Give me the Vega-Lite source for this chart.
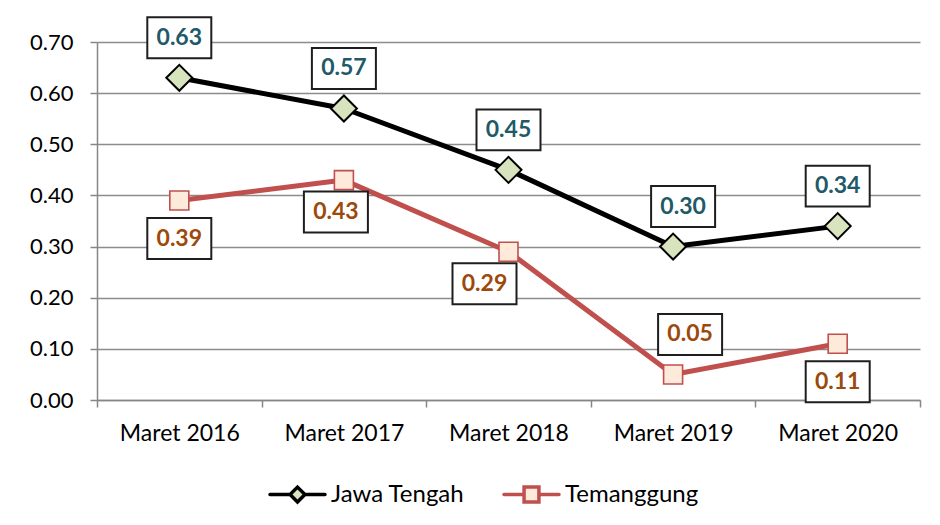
{
  "$schema": "https://vega.github.io/schema/vega-lite/v6.json",
  "width": 823,
  "height": 358,
  "autosize": {"type": "none"},
  "padding": {"left": 97, "top": 42, "right": 20, "bottom": 125},
  "background": "white",
  "config": {
    "font": "Lato",
    "view": {"stroke": null},
    "axis": {
      "labelFont": "Lato",
      "labelColor": "#000000",
      "domainColor": "#868686",
      "domainWidth": 1.5,
      "tickColor": "#868686",
      "tickWidth": 1.5,
      "tickSize": 7,
      "gridColor": "#8c8c8c",
      "gridWidth": 1.5,
      "title": null
    }
  },
  "data": {
    "values": [
      {"period": "Maret 2016", "series": "Jawa Tengah", "value": 0.63},
      {"period": "Maret 2017", "series": "Jawa Tengah", "value": 0.57},
      {"period": "Maret 2018", "series": "Jawa Tengah", "value": 0.45},
      {"period": "Maret 2019", "series": "Jawa Tengah", "value": 0.30},
      {"period": "Maret 2020", "series": "Jawa Tengah", "value": 0.34},
      {"period": "Maret 2016", "series": "Temanggung", "value": 0.39},
      {"period": "Maret 2017", "series": "Temanggung", "value": 0.43},
      {"period": "Maret 2018", "series": "Temanggung", "value": 0.29},
      {"period": "Maret 2019", "series": "Temanggung", "value": 0.05},
      {"period": "Maret 2020", "series": "Temanggung", "value": 0.11}
    ]
  },
  "encoding": {
    "x": {
      "field": "period",
      "type": "nominal",
      "scale": {"type": "band", "paddingInner": 0, "paddingOuter": 0},
      "axis": {
        "tickBand": "extent",
        "labelAngle": 0,
        "labelFontSize": 23,
        "labelPadding": 15,
        "grid": false
      }
    },
    "y": {
      "field": "value",
      "type": "quantitative",
      "scale": {"domain": [0, 0.7], "nice": false, "zero": true},
      "axis": {
        "values": [0, 0.1, 0.2, 0.3, 0.4, 0.5, 0.6, 0.7],
        "format": ".2f",
        "labelFontSize": 22,
        "labelPadding": 17,
        "grid": true
      }
    }
  },
  "layer": [
    {
      "mark": {"type": "line", "strokeWidth": 5, "strokeJoin": "round", "strokeCap": "round"},
      "encoding": {
        "color": {
          "field": "series",
          "type": "nominal",
          "scale": {"domain": ["Jawa Tengah", "Temanggung"], "range": ["#000000", "#C0504D"]},
          "legend": {
            "title": null,
            "orient": "none",
            "direction": "horizontal",
            "legendX": 171,
            "legendY": 423,
            "symbolSize": 3025,
            "labelFontSize": 24,
            "labelFont": "Lato",
            "labelColor": "#000000",
            "labelOffset": 4,
            "columnPadding": 32,
            "encode": {
              "symbols": {
                "update": {
                  "shape": {"signal": "datum.value == 'Jawa Tengah' ? 'M-1,0H-0.27M0.27,0H1M0,-0.27L0.27,0L0,0.27L-0.27,0Z' : 'M-1,0H-0.27M0.27,0H1M-0.27,-0.27H0.27V0.27H-0.27Z'"},
                  "fill": {"signal": "datum.value == 'Jawa Tengah' ? '#D7E4BD' : '#FDEADA'"},
                  "stroke": {"signal": "datum.value == 'Jawa Tengah' ? '#000000' : '#C0504D'"},
                  "strokeWidth": {"value": 3.5},
                  "strokeCap": {"value": "round"},
                  "opacity": {"value": 1}
                }
              }
            }
          }
        }
      }
    },
    {
      "mark": {"type": "point", "filled": true, "opacity": 1},
      "encoding": {
        "shape": {"condition": {"test": "datum.series == 'Jawa Tengah'", "value": "diamond"}, "value": "square"},
        "size": {"condition": {"test": "datum.series == 'Jawa Tengah'", "value": 676}, "value": 361},
        "fill": {"condition": {"test": "datum.series == 'Jawa Tengah'", "value": "#D7E4BD"}, "value": "#FDEADA"},
        "stroke": {"condition": {"test": "datum.series == 'Jawa Tengah'", "value": "#000000"}, "value": "#C0504D"},
        "strokeWidth": {"condition": {"test": "datum.series == 'Jawa Tengah'", "value": 2}, "value": 1.6}
      }
    },
    {
      "mark": {
        "type": "point",
        "filled": true,
        "opacity": 1,
        "shape": "M-1,-0.64H1V0.64H-1Z",
        "size": 4096,
        "fill": "#ffffff",
        "stroke": "#1e1e1e",
        "strokeWidth": 2,
        "xOffset": {"expr": "datum.series == 'Temanggung' && datum.period == 'Maret 2018' ? -24 : datum.series == 'Temanggung' && datum.period == 'Maret 2019' ? 17 : datum.series == 'Temanggung' && datum.period == 'Maret 2017' ? -8 : datum.series == 'Jawa Tengah' && datum.period == 'Maret 2019' ? 10 : 0"},
        "yOffset": {"expr": "datum.series == 'Jawa Tengah' || datum.period == 'Maret 2019' ? -40 : (datum.period == 'Maret 2017' || datum.period == 'Maret 2018' ? 32 : 38)"}
      }
    },
    {
      "mark": {
        "type": "text",
        "font": "Lato",
        "fontWeight": "bold",
        "fontSize": 23,
        "baseline": "middle",
        "align": "center",
        "dx": {"expr": "datum.series == 'Temanggung' && datum.period == 'Maret 2018' ? -24 : datum.series == 'Temanggung' && datum.period == 'Maret 2019' ? 17 : datum.series == 'Temanggung' && datum.period == 'Maret 2017' ? -8 : datum.series == 'Jawa Tengah' && datum.period == 'Maret 2019' ? 10 : 0"},
        "dy": {"expr": "datum.series == 'Jawa Tengah' || datum.period == 'Maret 2019' ? -40 : (datum.period == 'Maret 2017' || datum.period == 'Maret 2018' ? 32 : 38)"}
      },
      "encoding": {
        "text": {"field": "value", "type": "quantitative", "format": ".2f"},
        "color": {"condition": {"test": "datum.series == 'Jawa Tengah'", "value": "#215968"}, "value": "#9C4A0C"}
      }
    }
  ]
}
